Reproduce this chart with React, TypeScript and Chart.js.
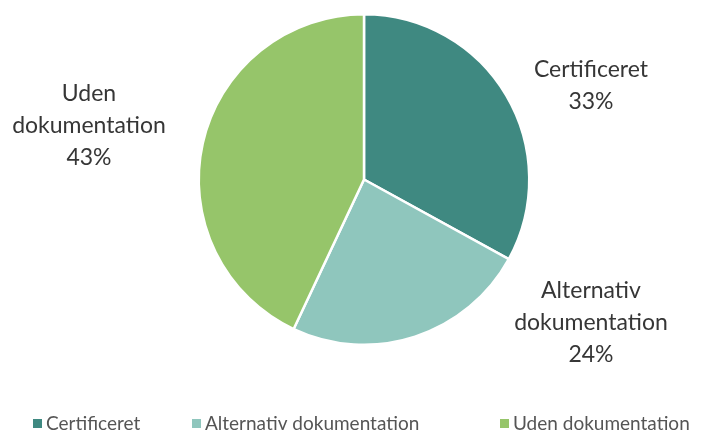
import React, { useEffect, useRef } from "react";
import { Chart, registerables } from "chart.js";

Chart.register(...registerables);

const categories: string[] = ["Certificeret", "Alternativ dokumentation", "Uden dokumentation"];
const values: number[] = [33, 24, 43];
const labelLines: string[][] = [
  ["Certificeret", "33%"],
  ["Alternativ", "dokumentation", "24%"],
  ["Uden", "dokumentation", "43%"],
];

const colors = ["#3f8981", "#8fc6bd", "#96c56a"];
// label centre offsets relative to the pie centre (style only)
const labelOffsets = [
  [227, -94],
  [227, 143],
  [-275, -54],
];
const legendX = [33, 192, 500];
const FONT = "Lato, 'Open Sans', sans-serif";

const labelPlugin = {
  id: "outLabels",
  afterDraw(chart: any) {
    const ctx = chart.ctx;
    const meta = chart.getDatasetMeta(0);
    ctx.save();
    ctx.font = `23px ${FONT}`;
    ctx.fillStyle = "#363636";
    ctx.textAlign = "center";
    ctx.textBaseline = "middle";
    meta.data.forEach((arc: any, i: number) => {
      const cx = arc.x + labelOffsets[i][0];
      const cy = arc.y + labelOffsets[i][1];
      const lines = labelLines[i];
      const lh = 32;
      const start = cy - ((lines.length - 1) * lh) / 2;
      lines.forEach((t, j) => ctx.fillText(t, cx, start + j * lh));
    });
    // legend
    ctx.font = `19px ${FONT}`;
    ctx.textAlign = "left";
    const ly = 424;
    categories.forEach((c, i) => {
      ctx.fillStyle = colors[i];
      ctx.fillRect(legendX[i], ly - 5, 9, 9);
      ctx.fillStyle = "#555555";
      ctx.fillText(c, legendX[i] + 13, ly);
    });
    ctx.restore();
  },
};

export default function App() {
  const ref = useRef<HTMLCanvasElement>(null);
  useEffect(() => {
    if (!ref.current) return;
    const chart = new Chart(ref.current, {
      type: "pie",
      data: {
        labels: categories,
        datasets: [
          {
            data: values,
            backgroundColor: colors,
            borderColor: "#ffffff",
            borderWidth: 2.5,
          },
        ],
      },
      options: {
        animation: false,
        responsive: true,
        maintainAspectRatio: false,
        layout: { padding: { left: 197, right: 179, top: 13, bottom: 89 } },
        plugins: {
          legend: { display: false },
          tooltip: { enabled: false },
        },
      },
      plugins: [labelPlugin],
    });
    return () => chart.destroy();
  }, []);
  return (
    <div style={{ position: "fixed", left: 0, top: 0, width: 710, height: 435, background: "#fff" }}>
      <canvas ref={ref} />
    </div>
  );
}
